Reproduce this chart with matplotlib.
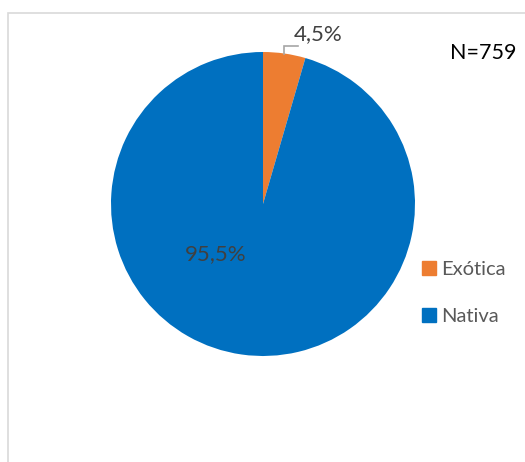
import matplotlib.pyplot as plt
import numpy as np
from matplotlib.patches import Rectangle
from matplotlib.lines import Line2D

categorias = ['Exótica', 'Nativa']
porcentajes = [4.5, 95.5]
colores = ['#ED7D31', '#0070C0']
total_n = 759

plt.rcParams['font.family'] = ['Lato', 'DejaVu Sans']

W, H = 525, 462
fig = plt.figure(figsize=(W / 100, H / 100), dpi=100)

# marco gris del área del gráfico
fig.patches.append(Rectangle((8 / W, -0.1), 1.2, (H - 13) / H + 0.1,
                             transform=fig.transFigure, fill=False,
                             edgecolor='#d9d9d9', linewidth=1.2))

# pastel: centro (263, 204) px, radio 152 px
cx, cy, R = 263, 204, 152
ax = fig.add_axes([(cx - R) / W, (H - cy - R) / H, 2 * R / W, 2 * R / H])
ax.pie(porcentajes, colors=colores, startangle=90, counterclock=False,
       radius=1, wedgeprops=dict(linewidth=0))
ax.set_xlim(-1, 1)
ax.set_ylim(-1, 1)
ax.set_aspect('auto')
ax.axis('off')

def fmt(v):
    return f'{v:.1f}%'.replace('.', ',')

# etiqueta de la porción pequeña con línea guía
ang = np.deg2rad(90 - porcentajes[0] / 100 * 360 / 2)
px, py = np.cos(ang), np.sin(ang)
ax.plot([px, px, px + 0.09], [py, 1.04, 1.04], color='#a6a6a6',
        linewidth=1.2, clip_on=False, solid_joinstyle='miter')
ax.text(0.365, 1.12, fmt(porcentajes[0]), ha='center', va='center',
        fontsize=16, color='#404040', clip_on=False)

ax.text(-0.31, -0.33, fmt(porcentajes[1]), ha='center', va='center',
        fontsize=16, color='#404040')

fig.text(483 / W, 1 - 53 / H, f'N={total_n}', ha='center', va='center',
         fontsize=15.5, color='black')

handles = [Line2D([], [], marker='s', linestyle='none', markersize=10,
                  markerfacecolor=c, markeredgecolor=c) for c in colores]
leg = fig.legend(handles, categorias, loc='center left',
                 bbox_to_anchor=(411 / W, 1 - 293 / H), frameon=False,
                 fontsize=14.5, labelcolor='#595959', handlelength=0.8,
                 handletextpad=0.2, labelspacing=1.45, borderpad=0)

fig.savefig('out.png', dpi=100)
